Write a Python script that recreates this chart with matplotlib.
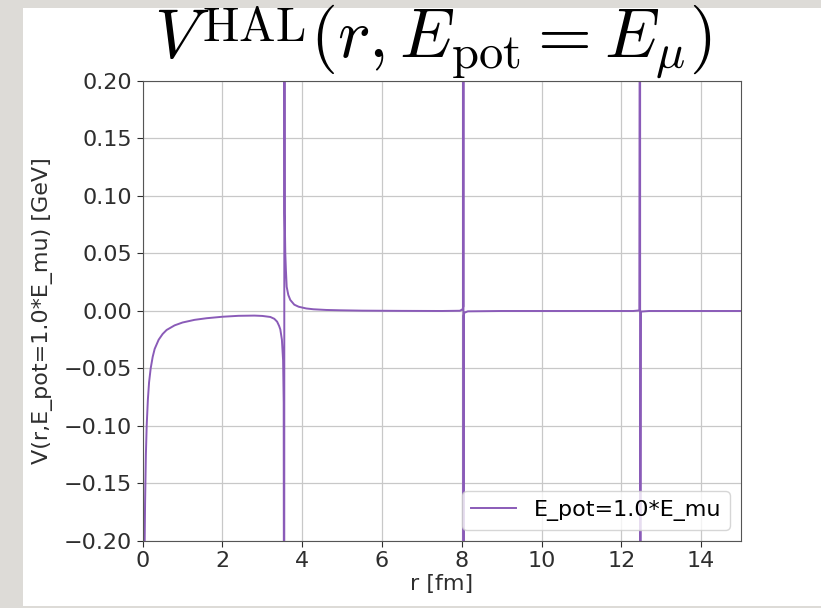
import matplotlib
matplotlib.use("Agg")
import matplotlib.pyplot as plt
import matplotlib._mathtext as mt
from matplotlib.patches import Rectangle

plt.rcParams['mathtext.fontset'] = 'cm'
# LaTeX puts the superscript lower than mathtext does
mt.ComputerModernFontConstants.sup1 = 0.26

# r [fm] and V [GeV]; the poles are joined by one steep segment each
r_vals = [0.020, 0.035, 0.050, 0.060, 0.080, 0.100, 0.130, 0.160, 0.200, 0.250,
          0.300, 0.400, 0.500, 0.600, 0.800, 1.000, 1.300, 1.600, 2.000, 2.400,
          2.800, 3.000, 3.200, 3.300, 3.370, 3.420, 3.450, 3.490, 3.520, 3.535,
          3.548, 3.552, 3.560, 3.575, 3.590, 3.610, 3.650, 3.700, 3.800, 3.910,
          4.100, 4.280, 4.600, 4.960, 5.500, 6.500, 7.500, 7.950, 8.020, 8.038,
          8.041, 8.042, 8.045, 8.065, 8.150, 9.000, 12.30, 12.45, 12.470, 12.471,
          12.49, 12.70, 15.00]
v_vals = [-0.500, -0.280, -0.200, -0.167, -0.125, -0.100, -0.077, -0.062, -0.050, -0.040,
          -0.033, -0.025, -0.020, -0.0165, -0.0125, -0.0100, -0.0077, -0.0063, -0.0050, -0.0042,
          -0.0040, -0.0043, -0.0052, -0.0068, -0.0093, -0.0130, -0.0160, -0.0250, -0.0430, -0.0800,
          -0.600, 0.600, 0.085, 0.050, 0.036, 0.021, 0.014, 0.0096, 0.0055, 0.0037,
          0.0022, 0.0015, 0.0009, 0.0006, 0.0003, 0.0001, 0.0, 0.0002, 0.0015, 0.0040,
          0.600, -0.600, -0.0040, -0.0015, -0.0003, 0.0, 0.0, 0.0005, 0.600, -0.600,
          -0.0005, 0.0, 0.0]

x_ticks = [0, 2, 4, 6, 8, 10, 12, 14]
y_ticks = [-0.20, -0.15, -0.10, -0.05, 0.00, 0.05, 0.10, 0.15, 0.20]

text_col = '#2e2e2e'
line_col = '#8a5bb8'

fig = plt.figure(figsize=(8.21, 6.08), dpi=100, facecolor='#dddbd7')
# white slide area inside the grey border
fig.patches.append(Rectangle((23 / 821, 2 / 608), 1 - 23 / 821, 598 / 608,
                             transform=fig.transFigure, facecolor='white',
                             edgecolor='none', zorder=-10))

ax = fig.add_axes([0.1738, 0.1102, 0.7288, 0.7566])
ax.plot(r_vals, v_vals, color=line_col, lw=1.4, label='E_pot=1.0*E_mu')

ax.set_xlim(0, 15)
ax.set_ylim(-0.2, 0.2)
ax.set_xticks(x_ticks)
ax.set_yticks(y_ticks)
ax.grid(True, color='#c8c8c8', lw=0.9)
ax.tick_params(labelsize=16, colors=text_col, length=4)
for s in ax.spines.values():
    s.set_color('#555555')

ax.set_xlabel('r [fm]', fontsize=16, color=text_col, labelpad=2)
ax.set_ylabel('V(r,E_pot=1.0*E_mu) [GeV]', fontsize=16, color=text_col, labelpad=8)
ax.set_title(r'$V^{\mathrm{HAL}}(r, E_{\mathrm{pot}} = E_\mu)$', fontsize=50, x=0.485)

ax.legend(loc='lower right', fontsize=16)

fig.savefig('out.png', dpi=100, facecolor=fig.get_facecolor())
